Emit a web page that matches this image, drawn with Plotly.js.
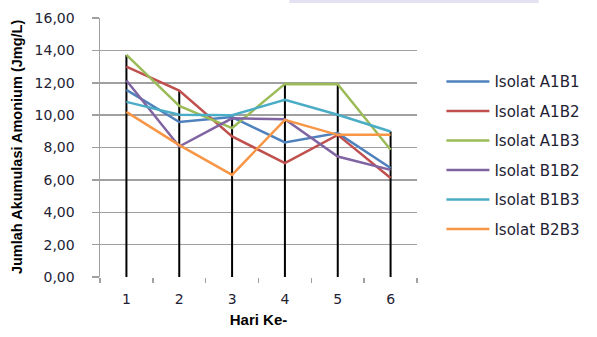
<!DOCTYPE html>
<html>
<head>
<meta charset="utf-8">
<script src="https://cdn.plot.ly/plotly-3.0.1.min.js"></script>
<style>
  html, body { margin: 0; padding: 0; background: #ffffff; }
  #chart { width: 597px; height: 337px; }
</style>
</head>
<body>
<div id="chart"></div>
<script>
// Days of observation
const days = [1, 2, 3, 4, 5, 6];
const dayLabels = ['1', '2', '3', '4', '5', '6'];

// Accumulated ammonium (mg/L) per isolate
const isolatA1B1 = [11.56, 9.57, 9.88, 8.31, 8.89, 6.73];
const isolatA1B2 = [13.00, 11.52, 8.68, 7.04, 8.78, 6.11];
const isolatA1B3 = [13.72, 10.57, 9.20, 11.93, 11.91, 7.86];
const isolatB1B2 = [12.14, 8.06, 9.80, 9.75, 7.44, 6.62];
const isolatB1B3 = [10.82, 10.02, 10.00, 10.94, 10.02, 8.99];
const isolatB2B3 = [10.20, 8.15, 6.31, 9.71, 8.78, 8.78];

const seriesNames = ['Isolat A1B1', 'Isolat A1B2', 'Isolat A1B3', 'Isolat B1B2', 'Isolat B1B3', 'Isolat B2B3'];
const seriesValues = [isolatA1B1, isolatA1B2, isolatA1B3, isolatB1B2, isolatB1B3, isolatB2B3];
const seriesColors = ['#4F81BD', '#C0504D', '#9BBB59', '#8064A2', '#4BACC6', '#F79646'];

const yTicks = [0, 2, 4, 6, 8, 10, 12, 14, 16];

// Drop lines: from the axis up to the highest value of each day
const dropX = [], dropY = [];
days.forEach((d, i) => {
  const top = Math.max(...seriesValues.map(s => s[i]));
  dropX.push(d, d, null);
  dropY.push(0, top, null);
});

// Tick marks sit on the boundaries between days
const boundaries = [0.5, 1.5, 2.5, 3.5, 4.5, 5.5, 6.5];

const traces = [{
  x: dropX, y: dropY, type: 'scatter', mode: 'lines',
  line: { color: '#000000', width: 2 },
  showlegend: false, hoverinfo: 'skip'
}];

seriesNames.forEach((name, k) => {
  traces.push({
    x: days, y: seriesValues[k], name: name, legendgroup: name,
    type: 'scatter', mode: 'lines',
    line: { color: seriesColors[k], width: 2.5 }
  });
});

const tickFont = { family: 'DejaVu Sans, sans-serif', size: 14, color: '#1e2233' };

const layout = {
  width: 597, height: 337,
  margin: { l: 100, r: 174, t: 18, b: 60 },
  paper_bgcolor: '#ffffff', plot_bgcolor: '#ffffff',
  separators: ',.',
  showlegend: true,
  xaxis: {
    range: [0.5, 6.5],
    tickvals: days, ticktext: dayLabels,
    ticks: '', ticklabelstandoff: 12,
    minor: { tickvals: boundaries, ticks: 'outside', ticklen: 5, tickcolor: '#a0a0a0', tickwidth: 1.5, showgrid: false },
    showgrid: false, zeroline: false, showline: false,
    tickfont: tickFont,
    title: { text: 'Hari Ke-', font: { family: 'Liberation Sans, Arial, sans-serif', size: 15, color: '#000000', weight: 'bold' }, standoff: 8 },
    fixedrange: true
  },
  yaxis: {
    range: [0, 16],
    tickvals: yTicks,
    tickformat: '.2f',
    ticks: 'outside', ticklen: 7, tickcolor: '#a0a0a0', tickwidth: 1.5,
    ticklabelstandoff: 14,
    showline: true, linecolor: '#a0a0a0', linewidth: 1.5,
    showgrid: true, gridcolor: '#a0a0a0', gridwidth: 1.5,
    zeroline: false,
    tickfont: tickFont,
    fixedrange: true
  },
  legend: {
    x: 1.077, xanchor: 'left', y: 0.818, yanchor: 'top',
    font: { family: 'DejaVu Sans, sans-serif', size: 15, color: '#1e2233' },
    itemwidth: 43,
    tracegroupgap: 7,
    bgcolor: 'rgba(0,0,0,0)'
  },
  annotations: [{
    text: '<b>Jumlah Akumulasi Amonium (Jmg/L)</b>',
    xref: 'paper', yref: 'paper',
    x: -85 / 323, y: 0.5, xanchor: 'center', yanchor: 'middle',
    textangle: -90, showarrow: false,
    font: { family: 'Liberation Sans, Arial, sans-serif', size: 14.5, color: '#000000' }
  }],
  shapes: [{
    type: 'rect', xref: 'paper', yref: 'paper',
    x0: 193 / 323, x1: 447 / 323, y0: 1 + 15 / 259, y1: 1 + 18 / 259,
    fillcolor: '#e2e2f2', line: { width: 0 }, layer: 'below'
  }]
};

Plotly.newPlot('chart', traces, layout, { displayModeBar: false, staticPlot: true });
</script>
</body>
</html>
